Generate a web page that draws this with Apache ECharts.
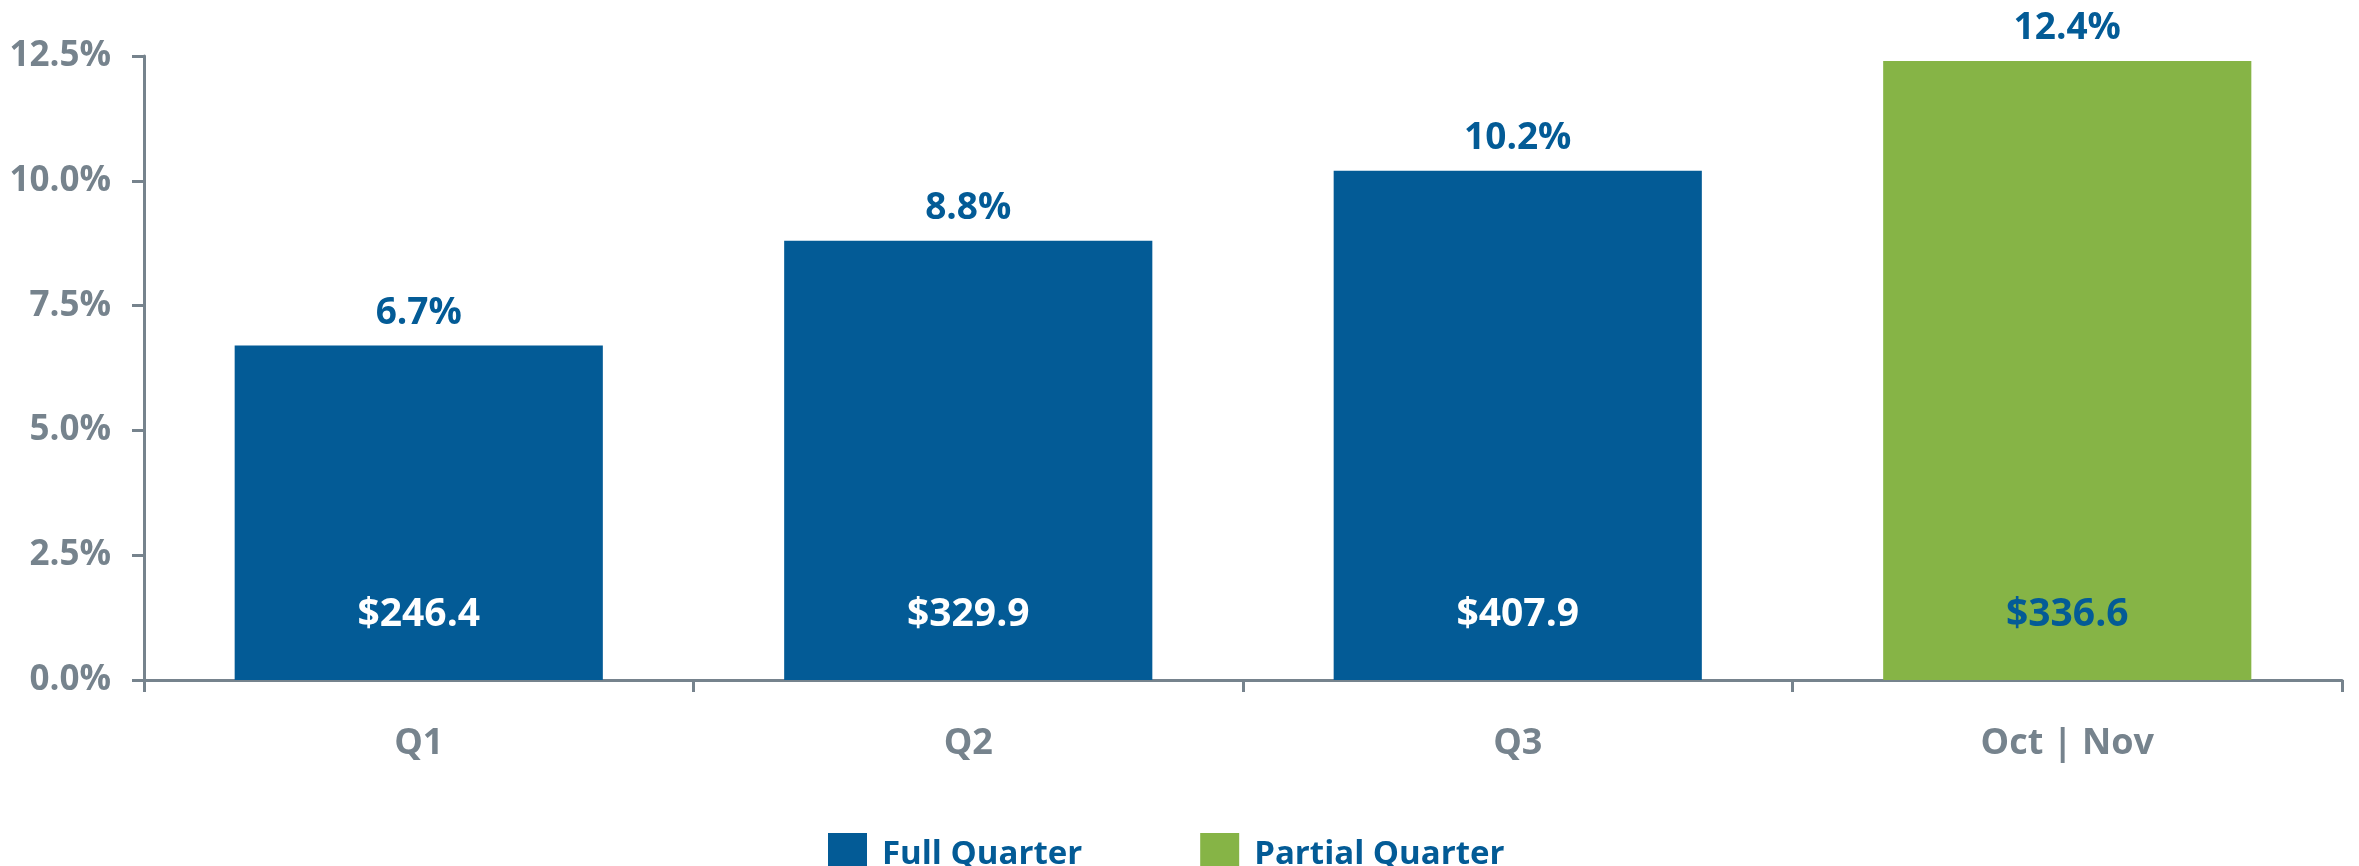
<!DOCTYPE html>
<html>
<head>
<meta charset="utf-8">
<script src="https://cdn.jsdelivr.net/npm/echarts@6/dist/echarts.min.js"></script>
<style>
  html, body { margin: 0; padding: 0; background: #fff; }
  #main { width: 2359px; height: 866px; }
</style>
</head>
<body>
<div id="main"></div>
<script>
var categories = ['Q1', 'Q2', 'Q3', 'Oct | Nov']
var fullQuarter = [6.7, 8.8, 10.2, '-']
var partialQuarter = ['-', '-', '-', 12.4]
var dollars = ['$246.4', '$329.9', '$407.9', '$336.6']
var dollarBase = [0, 0, 0, 0]

var BLUE = '#035b96'
var GREEN = '#86b446'
var GREY = '#76838d'
var FONT = 'Open Sans'

var pctLabel = {
    show: true,
    position: 'top',
    distance: 14,
    color: BLUE,
    fontFamily: FONT,
    fontWeight: 'bold',
    fontSize: 37,
    formatter: function (p) { return p.value + '%' }
}

var myChart = echarts.init(document.getElementById('main'))
myChart.setOption({
    animation: false,
    grid: { left: 144, right: 17, top: 56, bottom: 186 },
    legend: {
        data: ['Full Quarter', 'Partial Quarter'],
        left: 823,
        top: 828,
        itemWidth: 39,
        itemHeight: 44,
        itemGap: 118,
        icon: 'rect',
        textStyle: {
            color: BLUE,
            fontFamily: FONT,
            fontWeight: 'bold',
            fontSize: 33,
            padding: [0, 0, 0, 10]
        }
    },
    xAxis: {
        type: 'category',
        data: categories,
        axisLine: { lineStyle: { color: GREY, width: 3 } },
        axisTick: { show: true, length: 12, lineStyle: { color: GREY, width: 3 } },
        axisLabel: {
            color: GREY,
            fontFamily: FONT,
            fontWeight: 'bold',
            fontSize: 36,
            margin: 46
        }
    },
    yAxis: {
        type: 'value',
        min: 0,
        max: 12.5,
        interval: 2.5,
        axisLine: { show: true, lineStyle: { color: GREY, width: 3 } },
        axisTick: { show: true, length: 12, lineStyle: { color: GREY, width: 3 } },
        splitLine: { show: false },
        axisLabel: {
            color: GREY,
            fontFamily: FONT,
            fontWeight: 'bold',
            fontSize: 35,
            margin: 33,
            formatter: function (v) { return v.toFixed(1) + '%' }
        }
    },
    series: [
        {
            name: 'Full Quarter',
            type: 'bar',
            stack: 'q',
            barWidth: '67%',
            data: fullQuarter,
            itemStyle: { color: BLUE },
            label: pctLabel
        },
        {
            name: 'Partial Quarter',
            type: 'bar',
            stack: 'q',
            barWidth: '67%',
            data: partialQuarter,
            itemStyle: { color: GREEN },
            label: pctLabel
        },
        {
            // dollar amounts near the bottom of each bar
            name: 'dollars',
            type: 'scatter',
            symbolSize: 0,
            z: 10,
            silent: true,
            itemStyle: { opacity: 1 },
            data: dollarBase.map(function (v, i) {
                return {
                    value: v,
                    label: { color: partialQuarter[i] === '-' ? '#ffffff' : BLUE }
                }
            }),
            label: {
                show: true,
                position: 'inside',
                offset: [0, -65],
                opacity: 1,
                fontFamily: FONT,
                fontWeight: 'bold',
                fontSize: 39,
                formatter: function (p) { return dollars[p.dataIndex] }
            }
        }
    ]
})
</script>
</body>
</html>
